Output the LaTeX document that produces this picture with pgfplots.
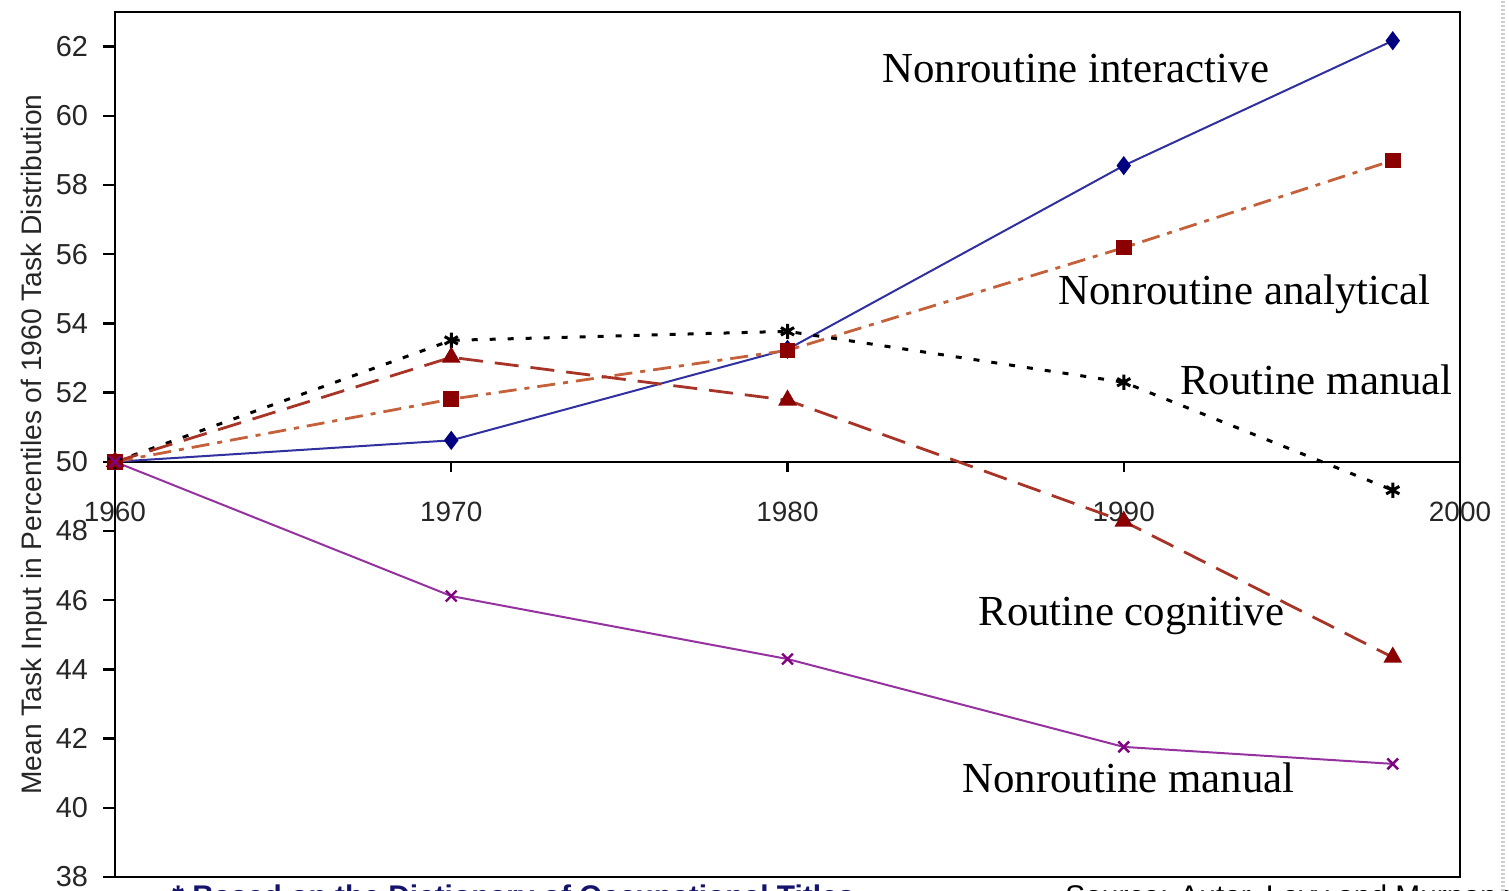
\documentclass[border=0pt]{standalone}
\usepackage{pgfplots}
\pgfplotsset{compat=1.18}
\usepackage{fontspec}
\setmainfont{Liberation Serif}
\newfontfamily\arial{Liberation Sans}
\usetikzlibrary{plotmarks}
\definecolor{niline}{RGB}{48,48,160}
\definecolor{nimark}{RGB}{0,0,128}
\definecolor{naline}{RGB}{196,96,58}
\definecolor{dred}{RGB}{139,0,0}
\definecolor{rcline}{RGB}{168,52,40}
\definecolor{nmline}{RGB}{150,50,160}
\definecolor{nmmark}{RGB}{128,0,128}
\definecolor{navytxt}{RGB}{20,20,110}
\begin{document}
\begin{tikzpicture}
\useasboundingbox (-57.5bp,-7bp) rectangle (697bp,438.5bp);
\begin{axis}[
  name=main, at={(0pt,0pt)}, anchor=south west,
  scale only axis, width=672.5bp, height=432.5bp,
  xmin=1960, xmax=2000, ymin=38, ymax=63,
  axis line style={line width=1.2bp},
  xtick={1960,1970,1980,1990,2000},
  xticklabels={1960,1970,1980,1990,2000},
  xtick style={draw=none},
  xticklabel style={font=\arial\fontsize{14}{14}\selectfont, anchor=center, yshift=188.5bp, text=black!85},
  ytick={38,40,...,62},
  ytick pos=left,
  tick align=outside,
  major tick length=6bp,
  ytick style={line width=1.2bp, black},
  yticklabel style={font=\arial\fontsize{14.5}{14.5}\selectfont, text=black!85},
  /pgf/number format/assume math mode=true,
  yticklabel shift=4bp,
  ylabel={\resizebox{350bp}{!}{\arial\fontsize{14}{14}\selectfont Mean Task Input in Percentiles of 1960 Task Distribution}},
  ylabel style={text=black!85, yshift=-2.5bp},
  clip=false,
]
% zero line at 50
\draw[line width=1.2bp] (axis cs:1960,50) -- (axis cs:2000,50);
\draw[line width=1.2bp] (axis cs:1970,50) -- ([yshift=-5bp]axis cs:1970,50);
\draw[line width=1.2bp] (axis cs:1980,50) -- ([yshift=-5bp]axis cs:1980,50);
\draw[line width=1.2bp] (axis cs:1990,50) -- ([yshift=-5bp]axis cs:1990,50);
% Nonroutine interactive
\addplot[color=niline, line width=1bp, mark=diamond*, mark size=4bp, mark options={fill=nimark, draw=nimark, solid}]
  coordinates {(1960,50) (1970,50.62) (1980,53.25) (1990,58.56) (1998,62.17)};
% Nonroutine analytical
\addplot[color=naline, line width=1.4bp, dash pattern=on 9bp off 4bp on 2.5bp off 4bp, mark=square*, mark size=3.2bp, mark options={fill=dred, draw=dred, solid}]
  coordinates {(1960,50) (1970,51.81) (1980,53.22) (1990,56.19) (1998,58.71)};
% Routine manual
\addplot[color=black, line width=1.5bp, dash pattern=on 3bp off 6bp, mark=asterisk, mark size=3.8bp, mark options={draw=black, solid, line width=1.5bp}]
  coordinates {(1960,50) (1970,53.51) (1980,53.77) (1990,52.30) (1998,49.18)};
% Routine cognitive
\addplot[color=rcline, line width=1.4bp, dash pattern=on 12bp off 6bp, mark=triangle*, mark size=4bp, mark options={fill=dred, draw=dred, solid}]
  coordinates {(1960,50) (1970,53.02) (1980,51.78) (1990,48.28) (1998,44.35)};
% Nonroutine manual
\addplot[color=nmline, line width=1bp, mark=x, mark size=3.8bp, mark options={draw=nmmark, solid, line width=1.2bp}]
  coordinates {(1960,50) (1970,46.12) (1980,44.30) (1990,41.76) (1998,41.27)};
% labels
\node[font=\fontsize{21.5}{21.5}\selectfont, anchor=base west, inner sep=0pt] at (axis cs:1982.81,60.96) {Nonroutine interactive};
\node[font=\fontsize{21.5}{21.5}\selectfont, anchor=base west, inner sep=0pt] at (axis cs:1988.04,54.55) {Nonroutine analytical};
\node[font=\fontsize{21.5}{21.5}\selectfont, anchor=base west, inner sep=0pt] at (axis cs:1991.67,51.95) {Routine manual};
\node[font=\fontsize{21.5}{21.5}\selectfont, anchor=base west, inner sep=0pt] at (axis cs:1985.67,45.28) {Routine cognitive};
\node[font=\fontsize{21.5}{21.5}\selectfont, anchor=base west, inner sep=0pt] at (axis cs:1985.19,40.45) {Nonroutine manual};
\end{axis}
% cut-off footer texts
\node[anchor=north west, inner sep=0pt, font=\arial\bfseries\fontsize{15}{15}\selectfont, text=navytxt] at (28.5bp,-3.5bp) {* Based on the Dictionary of Occupational Titles};
\node[anchor=north west, inner sep=0pt, font=\arial\fontsize{15}{15}\selectfont] at (475bp,-3.5bp) {Source: Autor, Levy and Murnane 2003};
\draw[gray!40, line width=2bp, dash pattern=on 1bp off 1bp] (694bp,-7bp) -- (694bp,438.5bp);
\end{tikzpicture}
\end{document}
